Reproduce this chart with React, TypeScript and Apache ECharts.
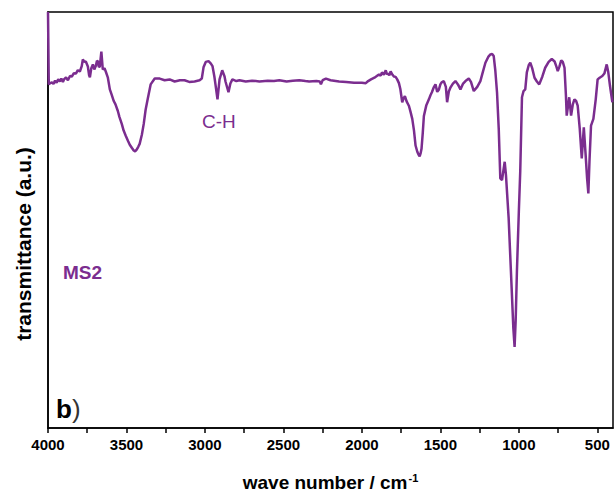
import React, { useEffect, useRef } from "react";
import * as echarts from "echarts";

const wavenumbers = [
  4000, 3995, 3985, 3975, 3965, 3955, 3945, 3935, 3924, 3915, 3905, 3898, 3885, 3873, 3860, 3848, 3835, 3822, 3810, 3797,
  3785, 3778, 3768, 3759, 3746, 3738, 3733, 3724, 3714, 3705, 3695, 3688, 3682, 3676, 3670, 3660, 3651, 3640, 3632, 3619,
  3606, 3595, 3581, 3570, 3555, 3545, 3530, 3518, 3504, 3490, 3479, 3465, 3454, 3445, 3435, 3425, 3416, 3402, 3390, 3378,
  3365, 3346, 3320, 3288, 3257, 3225, 3193, 3160, 3130, 3100, 3066, 3034, 3020, 3009, 2995, 2977, 2962, 2952, 2940, 2933,
  2920, 2907, 2890, 2875, 2869, 2850, 2838, 2825, 2800, 2780, 2740, 2700, 2653, 2600, 2560, 2526, 2480, 2440, 2399, 2360,
  2336, 2290, 2268, 2261, 2250, 2229, 2200, 2145, 2100, 2050, 2000, 1975, 1960, 1942, 1920, 1905, 1891, 1880, 1872, 1860,
  1848, 1840, 1834, 1825, 1817, 1805, 1796, 1785, 1775, 1764, 1755, 1743, 1735, 1726, 1715, 1700, 1690, 1679, 1668, 1658,
  1647, 1640, 1632, 1626, 1620, 1612, 1605, 1590, 1573, 1563, 1554, 1543, 1531, 1520, 1510, 1500, 1491, 1478, 1465, 1457,
  1446, 1435, 1420, 1404, 1388, 1372, 1355, 1340, 1319, 1305, 1287, 1265, 1245, 1230, 1213, 1195, 1181, 1170, 1160, 1150,
  1139, 1128, 1118, 1107, 1098, 1090, 1082, 1065, 1046, 1035, 1027, 1020, 1012, 1000, 991, 980, 970, 959, 949, 937,
  927, 915, 900, 885, 870, 850, 832, 810, 790, 772, 760, 752, 742, 730, 720, 709, 700, 695, 679, 667,
  656, 646, 635, 625, 612, 599, 586, 575, 565, 557, 550, 540, 525, 510, 498, 485, 468, 455, 440, 430,
  419, 404,
];

const transmittance = [
  100, 82.6, 82.9, 83.1, 82.7, 83.5, 83.0, 83.8, 83.3, 84.0, 83.2, 83.8, 84.3, 83.6, 84.6, 84.5, 85.3, 85.2, 86.0, 85.7,
  87.0, 88.6, 88.0, 88.1, 86.9, 84.8, 84.3, 86.5, 87.4, 86.2, 87.1, 88.3, 88.1, 86.8, 86.9, 90.5, 86.2, 86.5, 85.7, 84.3,
  81.4, 80.2, 78.6, 77.8, 76.2, 74.8, 73.1, 71.5, 70.2, 69.0, 68.1, 67.3, 66.7, 66.5, 66.9, 67.6, 68.3, 70.5, 73.1, 76.5,
  79.0, 82.6, 84.0, 84.0, 83.6, 83.8, 83.3, 83.6, 83.6, 83.2, 83.3, 83.6, 84.0, 86.7, 88.0, 88.2, 87.6, 87.0, 84.5, 82.6,
  79.0, 83.8, 86.0, 84.5, 83.3, 80.7, 82.8, 83.8, 83.4, 83.6, 83.3, 83.5, 83.3, 83.5, 83.4, 83.6, 83.3, 83.5, 83.6, 83.4,
  83.3, 83.4, 83.3, 82.6, 83.6, 84.0, 83.6, 83.3, 83.2, 83.0, 83.0, 82.9, 83.4, 83.8, 84.2, 84.6, 85.0, 84.7, 85.5, 84.9,
  86.0, 85.0, 85.2, 84.8, 85.7, 84.9, 84.5, 84.4, 83.8, 82.9, 81.5, 78.3, 79.2, 79.8, 78.5, 77.4, 76.0, 74.3, 71.5, 67.9,
  66.4, 65.8, 65.3, 66.0, 67.1, 71.0, 75.0, 77.5, 79.0, 80.0, 80.7, 81.8, 82.6, 80.8, 81.3, 82.6, 83.1, 83.4, 82.0, 78.3,
  80.9, 81.9, 82.8, 83.4, 82.6, 81.4, 82.8, 83.4, 84.0, 83.2, 81.0, 82.0, 83.4, 85.5, 87.8, 89.2, 89.8, 89.9, 89.4, 86.0,
  80.7, 71.9, 60.0, 59.6, 62.0, 64.0, 60.8, 50.5, 33.8, 24.0, 19.5, 26.0, 37.9, 52.0, 61.7, 79.5, 81.0, 81.4, 85.5, 87.2,
  87.8, 86.5, 84.2, 83.3, 82.6, 84.5, 86.6, 88.0, 88.7, 88.1, 86.8, 85.8, 86.8, 88.4, 88.0, 86.6, 80.0, 75.1, 79.5, 75.1,
  77.8, 79.0, 78.6, 77.5, 72.0, 64.8, 72.3, 66.0, 60.0, 56.4, 64.0, 72.7, 74.3, 79.0, 83.8, 84.2, 84.6, 85.2, 87.4, 85.5,
  82.2, 78.3,
];

const xTickValues = [4000, 3750, 3500, 3250, 3000, 2750, 2500, 2250, 2000, 1750, 1500, 1250, 1000, 750, 500];
const xLabelValues = [4000, 3500, 3000, 2500, 2000, 1500, 1000, 500];

const PURPLE = "#7b2d8f";
const FONT = "Arial, 'Liberation Sans', Helvetica, sans-serif";

export default function App() {
  const ref = useRef<HTMLDivElement>(null);

  useEffect(() => {
    if (!ref.current) return;
    const chart = echarts.init(ref.current, undefined, { renderer: "svg" });
    const data = wavenumbers.map((w, i) => [w, transmittance[i]]);
    chart.setOption({
      animation: false,
      backgroundColor: "#ffffff",
      grid: {
        left: 48,
        right: 2,
        top: 12,
        bottom: 65,
        show: true,
        borderColor: "#000",
        borderWidth: 1.5,
        backgroundColor: "transparent",
      },
      xAxis: {
        type: "value",
        min: 400,
        max: 4000,
        inverse: true,
        name: "wave number / cm{sup|-1}",
        nameLocation: "middle",
        nameGap: 44,
        nameTextStyle: {
          fontFamily: FONT,
          fontWeight: "bold",
          fontSize: 19,
          color: "#000",
          rich: {
            sup: { fontFamily: FONT, fontWeight: "bold", fontSize: 11, verticalAlign: "top", padding: [0, 0, 10, 1], color: "#000" },
          },
        },
        axisLine: { show: true, lineStyle: { color: "#000", width: 1.5 } },
        axisTick: { show: true, inside: false, length: 5, customValues: xTickValues, lineStyle: { color: "#000", width: 1.5 } },
        axisLabel: {
          show: true,
          customValues: xLabelValues,
          margin: 9,
          fontFamily: FONT,
          fontWeight: "bold",
          fontSize: 15,
          color: "#000",
          formatter: (v: number) => String(v),
        },
        splitLine: { show: false },
      },
      yAxis: {
        type: "value",
        min: 0,
        max: 100,
        axisLine: { show: true, lineStyle: { color: "#000", width: 1.5 } },
        axisTick: { show: false },
        axisLabel: { show: false },
        splitLine: { show: false },
      },
      series: [
        {
          type: "line",
          data,
          showSymbol: false,
          symbol: "none",
          lineStyle: { color: PURPLE, width: 2.5 },
          itemStyle: { color: PURPLE },
          z: 3,
        },
      ],
      graphic: [
        {
          type: "text",
          x: 23,
          y: 244,
          rotation: Math.PI / 2,
          style: {
            text: "transmittance (a.u.)",
            fontFamily: FONT,
            fontWeight: "bold",
            fontSize: 21,
            fill: "#000",
            align: "center",
            verticalAlign: "middle",
          },
        },
        {
          type: "text",
          left: 202,
          top: 112,
          style: { text: "C-H", fontFamily: FONT, fontSize: 19, fill: PURPLE },
        },
        {
          type: "text",
          left: 63,
          top: 263,
          style: { text: "MS2", fontFamily: FONT, fontWeight: "bold", fontSize: 19, fill: PURPLE },
        },
        {
          type: "text",
          left: 56,
          top: 396,
          style: {
            text: "{b|b}{p|)}",
            rich: {
              b: { fontFamily: FONT, fontWeight: "bold", fontSize: 26, fill: "#000" },
              p: { fontFamily: FONT, fontSize: 26, fill: "#333" },
            },
          },
        },
      ],
    });
    return () => chart.dispose();
  }, []);

  return (
    <div
      ref={ref}
      style={{ position: "fixed", left: 0, top: 0, width: 615, height: 497, background: "#fff" }}
    />
  );
}
